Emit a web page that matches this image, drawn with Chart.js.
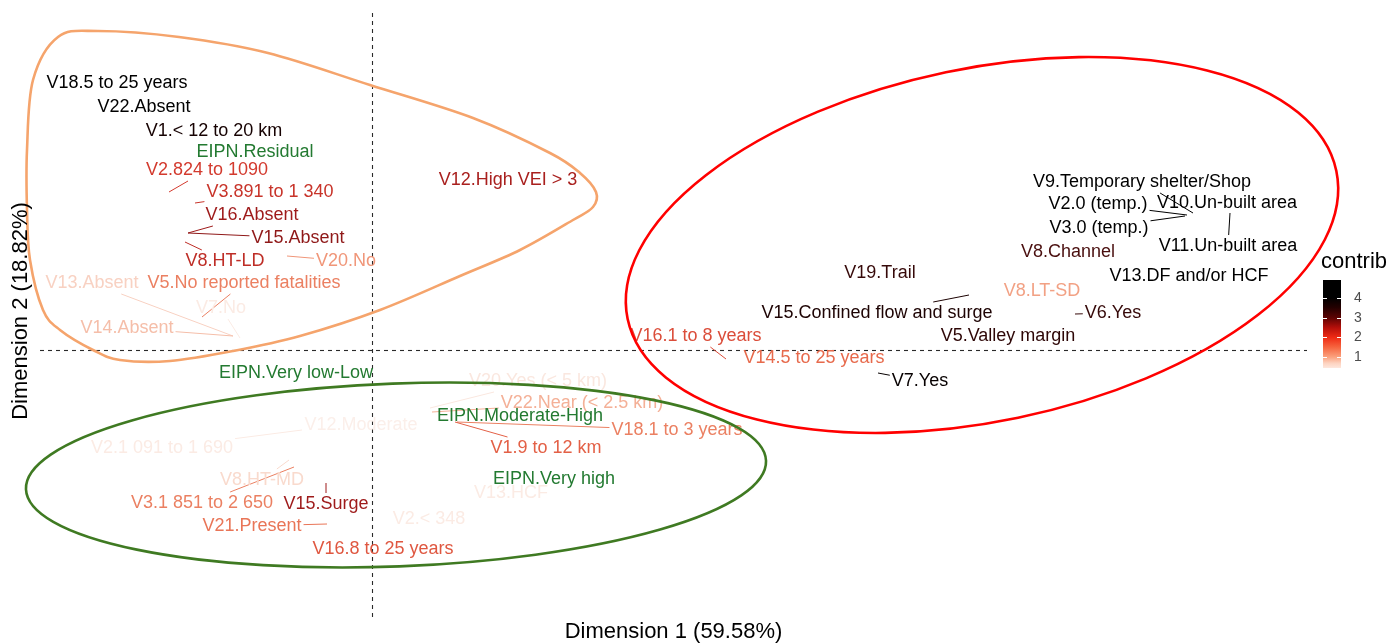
<!DOCTYPE html>
<html><head><meta charset="utf-8">
<script src="https://cdn.jsdelivr.net/npm/chart.js@4.4.1/dist/chart.umd.min.js"></script>
<style>html,body{margin:0;padding:0;background:#fff;}canvas{display:block;}</style>
</head><body>
<canvas id="c" width="1392" height="644"></canvas>
<script>
// ---- data ----
const categoryLabels = [
 'V18.5 to 25 years','V22.Absent','V1.< 12 to 20 km','EIPN.Residual','V2.824 to 1090',
 'V3.891 to 1 340','V16.Absent','V15.Absent','V8.HT-LD','V20.No',
 'V13.Absent','V5.No reported fatalities','V7.No','V14.Absent','V12.High VEI > 3',
 'V9.Temporary shelter/Shop','V2.0 (temp.)','V10.Un-built area','V3.0 (temp.)','V11.Un-built area',
 'V8.Channel','V13.DF and/or HCF','V19.Trail','V8.LT-SD','V15.Confined flow and surge',
 'V6.Yes','V5.Valley margin','V16.1 to 8 years','V14.5 to 25 years','V7.Yes',
 'EIPN.Very low-Low','V20.Yes (< 5 km)','V22.Near (< 2.5 km)','EIPN.Moderate-High','V18.1 to 3 years',
 'V1.9 to 12 km','EIPN.Very high','V13.HCF','V2.< 348','V12.Moderate',
 'V2.1 091 to 1 690','V8.HT-MD','V3.1 851 to 2 650','V15.Surge','V21.Present',
 'V16.8 to 25 years'
];
const labelDim1 = [
 -1.275,-1.14,-0.79,-0.585,-0.825,
 -0.51,-0.60,-0.37,-0.735,-0.13,
 -1.40,-0.64,-0.755,-1.225,0.68,
 3.85,3.63,4.275,3.635,4.28,
 3.48,4.085,2.54,3.35,2.525,
 3.705,3.18,1.62,2.21,2.74,
 -0.38,0.83,1.05,0.74,1.525,
 0.87,0.91,0.695,0.285,-0.055,
 -1.05,-0.55,-0.85,-0.23,-0.60,
 0.055
];
const labelDim2 = [
 1.335,1.215,1.095,0.99,0.90,
 0.79,0.675,0.56,0.445,0.445,
 0.335,0.335,0.21,0.11,0.85,
 0.84,0.73,0.735,0.61,0.52,
 0.49,0.37,0.385,0.295,0.185,
 0.185,0.07,0.07,-0.04,-0.155,
 -0.115,-0.155,-0.265,-0.33,-0.40,
 -0.49,-0.645,-0.715,-0.845,-0.375,
 -0.49,-0.65,-0.765,-0.77,-0.88,
 -0.995
];
// actual category coordinates (only where a leader line joins label and point)
const pointDim1 = [
 null,null,null,null,-1.015,
 -0.885,-0.92,-0.92,-0.935,-0.425,
 -0.695,-0.85,-0.66,-0.695,null,
 4.105,4.075,null,4.065,4.29,
 null,null,null,null,2.985,
 3.515,null,1.77,null,2.53,
 null,0.29,0.30,null,0.425,
 0.415,null,null,null,null,
 -0.35,-0.415,-0.39,-0.23,-0.225,
 null
];
const pointDim2 = [
 null,null,null,null,0.79,
 0.735,0.585,0.585,0.54,0.47,
 0.07,0.165,0.06,0.07,null,
 0.685,0.675,null,0.67,0.685,
 null,null,null,null,0.275,
 0.18,null,-0.045,null,-0.115,
 null,-0.29,-0.31,null,-0.36,
 -0.36,null,null,null,null,
 -0.40,-0.55,-0.585,-0.665,-0.87,
 null
];
// contribution (null = supplementary category EIPN)
const contrib = [
 4.6,4.3,3.7,null,2.0,
 2.1,2.5,2.6,2.2,1.1,
 0.65,1.3,0.35,0.8,2.4,
 4.5,4.4,4.5,4.4,4.5,
 3.1,4.0,3.3,1.0,3.6,
 3.3,3.4,1.8,1.5,3.9,
 null,0.4,0.9,null,1.3,
 1.6,null,0.35,0.35,0.3,
 0.35,0.55,1.3,2.5,1.4,
 1.7
];
const legendTicks = [1,2,3,4];
const contribRange = [0.45, 4.9];
const axisTitleX = 'Dimension 1 (59.58%)';
const axisTitleY = 'Dimension 2 (18.82%)';
const legendTitle = 'contrib';

// hand-drawn group outlines (data units)
const redEllipse = {cx:3.05, cy:0.525, a:1.81, b:0.8825, angle:11.8};
const greenEllipse = {cx:0.12, cy:-0.625, a:1.8515, b:0.457, angle:2.2};
const orangeOutlineX = [-1.37,-0.965,-0.52,-0.01,0.505,0.89,1.04,1.12,1.105,1.005,0.74,0.44,0.04,-0.36,-0.695,-1.01,-1.26,-1.395,-1.56,-1.645,-1.71,-1.725,-1.725,-1.695,-1.57];
const orangeOutlineY = [1.595,1.565,1.485,1.325,1.16,0.985,0.885,0.79,0.715,0.65,0.50,0.37,0.20,0.07,-0.005,-0.055,-0.05,0.0,0.10,0.20,0.45,0.70,1.00,1.35,1.565];

// ---- styles ----
const supColor = '#237a31';
const colorStops = [
 [0.3,'#fbefea'],[0.7,'#f7cdbc'],[1.0,'#f2a184'],[1.5,'#e76a4c'],
 [2.0,'#d33a2e'],[2.5,'#9e1a1a'],[3.0,'#521010'],[3.5,'#240404'],[4.0,'#000000']
];
const barStops = [
 [0.3,'#fff4ef'],[0.7,'#fdd2bf'],[1.0,'#fba27f'],[1.5,'#f6653f'],
 [2.0,'#ee2a14'],[2.5,'#b30f0a'],[3.0,'#5c0303'],[3.5,'#240000'],[4.0,'#000000']
];
function hexToRgb(h){return [parseInt(h.slice(1,3),16),parseInt(h.slice(3,5),16),parseInt(h.slice(5,7),16)];}
function rampColor(stops, v){
  if (v <= stops[0][0]) return stops[0][1];
  for (let i=1;i<stops.length;i++){
    if (v <= stops[i][0]){
      const [v0,c0]=stops[i-1],[v1,c1]=stops[i];
      const t=(v-v0)/(v1-v0), a=hexToRgb(c0), b=hexToRgb(c1);
      return 'rgb('+a.map((x,k)=>Math.round(x+(b[k]-x)*t)).join(',')+')';
    }
  }
  return stops[stops.length-1][1];
}
function contribColor(v){ return v === null ? supColor : rampColor(colorStops, v); }
const labelFont = '18px "Liberation Sans", Arial, sans-serif';

const overlay = {
  id:'overlay',
  beforeDatasetsDraw(chart){
    const {ctx, chartArea:ca, scales:{x,y}} = chart;
    ctx.save();
    ctx.strokeStyle='#2a2a2a'; ctx.lineWidth=1.1; ctx.setLineDash([4,4]);
    const x0=Math.round(x.getPixelForValue(0))+0.5, y0=Math.round(y.getPixelForValue(0))+0.5;
    ctx.beginPath(); ctx.moveTo(ca.left,y0); ctx.lineTo(ca.right,y0); ctx.stroke();
    ctx.beginPath(); ctx.moveTo(x0,ca.top); ctx.lineTo(x0,ca.bottom); ctx.stroke();
    ctx.restore();
  },
  afterDatasetsDraw(chart){
    const {ctx, chartArea:ca, scales:{x,y}} = chart;
    const meta = chart.getDatasetMeta(0);
    ctx.save();
    ctx.font = labelFont;
    // leader segments
    meta.data.forEach((el,i)=>{
      if (pointDim1[i]===null) return;
      const px=x.getPixelForValue(pointDim1[i]), py=y.getPixelForValue(pointDim2[i]);
      const cx=el.x, cy=el.y;
      const hw=ctx.measureText(categoryLabels[i]).width/2+2, hh=11;
      const dx=px-cx, dy=py-cy;
      const t=Math.min(dx?hw/Math.abs(dx):Infinity, dy?hh/Math.abs(dy):Infinity);
      if (t>=1) return;
      ctx.strokeStyle=contribColor(contrib[i]); ctx.lineWidth=1; ctx.setLineDash([]);
      ctx.beginPath(); ctx.moveTo(cx+dx*t, cy+dy*t); ctx.lineTo(px,py); ctx.stroke();
    });
    // labels (light first so dark ones sit on top)
    const order = meta.data.map((_,i)=>i).sort((a,b)=>(contrib[a]===null?5:contrib[a])-(contrib[b]===null?5:contrib[b]));
    ctx.textAlign='center'; ctx.textBaseline='middle';
    order.forEach(i=>{
      const el=meta.data[i];
      ctx.fillStyle=contribColor(contrib[i]);
      ctx.fillText(categoryLabels[i], el.x, el.y);
    });
    // group outlines
    const ux = Math.abs(x.getPixelForValue(1)-x.getPixelForValue(0));
    const uy = Math.abs(y.getPixelForValue(1)-y.getPixelForValue(0));
    ctx.lineWidth=2.6;
    [[redEllipse,'#ff0000'],[greenEllipse,'#3f7a22']].forEach(([e,col])=>{
      ctx.strokeStyle=col;
      ctx.beginPath();
      ctx.ellipse(x.getPixelForValue(e.cx), y.getPixelForValue(e.cy), e.a*ux, e.b*uy, -e.angle*Math.PI/180, 0, Math.PI*2);
      ctx.stroke();
    });
    const P = orangeOutlineX.map((v,i)=>[x.getPixelForValue(v), y.getPixelForValue(orangeOutlineY[i])]);
    const n=P.length;
    ctx.strokeStyle='#f5a46c';
    ctx.beginPath(); ctx.moveTo(P[0][0],P[0][1]);
    for (let i=0;i<n;i++){
      const p0=P[(i-1+n)%n], p1=P[i], p2=P[(i+1)%n], p3=P[(i+2)%n];
      ctx.bezierCurveTo(p1[0]+(p2[0]-p0[0])/6, p1[1]+(p2[1]-p0[1])/6,
                        p2[0]-(p3[0]-p1[0])/6, p2[1]-(p3[1]-p1[1])/6, p2[0], p2[1]);
    }
    ctx.closePath(); ctx.stroke();
    // axis titles
    ctx.fillStyle='#000'; ctx.font='22px "Liberation Sans", Arial, sans-serif';
    ctx.textAlign='center'; ctx.textBaseline='middle';
    ctx.fillText(axisTitleX, (ca.left+ca.right)/2, 632);
    ctx.save(); ctx.translate(21,(ca.top+ca.bottom)/2-4); ctx.rotate(-Math.PI/2);
    ctx.fillText(axisTitleY,0,0); ctx.restore();
    // colour bar legend
    const barX=1323, barW=18, barTop=280, barBottom=368;
    const span = contribRange[1]-contribRange[0];
    const vToY = v => barBottom-(v-contribRange[0])/span*(barBottom-barTop);
    const g=ctx.createLinearGradient(0,barBottom,0,barTop);
    g.addColorStop(0, rampColor(barStops, contribRange[0]));
    barStops.forEach(([v])=>{ if (v>contribRange[0] && v<contribRange[1]) g.addColorStop((v-contribRange[0])/span, rampColor(barStops, v)); });
    g.addColorStop(1, rampColor(barStops, contribRange[1]));
    ctx.fillStyle=g; ctx.fillRect(barX,barTop,barW,barBottom-barTop);
    ctx.strokeStyle='#fff'; ctx.lineWidth=1;
    ctx.font='14px "Liberation Sans", Arial, sans-serif'; ctx.textAlign='left';
    legendTicks.forEach(v=>{
      const ty=Math.round(vToY(v))+0.5;
      ctx.beginPath(); ctx.moveTo(barX,ty); ctx.lineTo(barX+4,ty); ctx.moveTo(barX+barW-4,ty); ctx.lineTo(barX+barW,ty); ctx.stroke();
      ctx.fillStyle='#4d4d4d'; ctx.fillText(String(v), barX+barW+13, ty);
    });
    ctx.fillStyle='#000'; ctx.font='22px "Liberation Sans", Arial, sans-serif';
    ctx.fillText(legendTitle, 1321, 262);
    ctx.restore();
  }
};

new Chart(document.getElementById('c'), {
  type:'scatter',
  data:{ datasets:[{ label:'categories', data: labelDim1.map((v,i)=>({x:v, y:labelDim2[i]})), pointRadius:0, pointHoverRadius:0 }] },
  options:{
    responsive:false, animation:false, devicePixelRatio:1,
    layout:{ padding:{left:40, right:85, top:13, bottom:27} },
    scales:{
      x:{ type:'linear', min:-1.66, max:4.675, display:false },
      y:{ type:'linear', min:-1.335, max:1.685, display:false }
    },
    plugins:{ legend:{display:false}, tooltip:{enabled:false} }
  },
  plugins:[overlay]
});
</script>
</body></html>
